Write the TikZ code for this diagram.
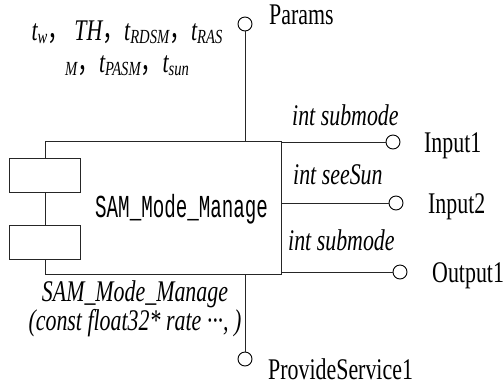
\documentclass[tikz,border=0pt]{standalone}
\usepackage{fontspec}
\setmainfont{Liberation Serif}[FakeStretch=0.73]
\newfontfamily\mononame{Liberation Mono}[FakeStretch=0.6]
\newfontfamily\cjk{Noto Sans CJK SC}[FakeStretch=0.73]
\newcommand{\sbs}[2]{#1\raisebox{-0.25ex}{\fontsize{20}{20}\selectfont #2}}
\newcommand{\zhcomma}{{\cjk ，}}

\begin{document}
\begin{tikzpicture}[x=1pt,y=-1pt]
  \tikzset{comp/.style = {shape=rectangle,draw=black!85,line width=0.9pt,inner sep=0pt}}
  \tikzset{subbox/.style = {comp,fill=white,minimum width=71pt,minimum height=34pt}}
  \tikzset{port/.style = {shape=circle,draw=black,line width=0.9pt,fill=white,minimum size=14pt,inner sep=0pt}}
  \tikzset{wire/.style = {draw=black!85,line width=0.9pt}}
  \tikzset{lbl/.style = {inner sep=0pt,font=\fontsize{30}{32}\selectfont}}
  \tikzset{ilbl/.style = {lbl,font=\fontsize{30}{32}\selectfont\itshape}}

  \useasboundingbox (0,0) rectangle (504,384);

	\node[comp,minimum width=236pt,minimum height=133pt] (SAM) at (163,207.5) {};
	\node[subbox] (sub1) at (44.5,175) {};
	\node[subbox] (sub2) at (44.5,242) {};
	\node[lbl,anchor=base west,font=\fontsize{32}{34}\mononame] (SAMname) at (95,217) {SAM\_Mode\_Manage};

	\node[port] (Params) at (245,24) {};
	\node[port] (ProvideService1) at (245,359) {};
	\node[port] (Input1) at (393,142) {};
	\node[port] (Input2) at (396,203) {};
	\node[port] (Output1) at (400,272) {};

	% port names
	\node[lbl,anchor=base west] (lblParams) at (269,24) {Params};
	\node[lbl,anchor=base west] (lblProvide) at (268,379) {ProvideService1};
	\foreach \p/\dx in {Input1/31, Input2/32, Output1/32}
	  \node[lbl,anchor=base west] (lbl\p) at ([xshift=\dx pt,yshift=-10pt]\p) {\p};

	% data labels
	\node[ilbl,anchor=base west] (typeIn1) at (292,125) {int submode};
	\node[ilbl,anchor=base west] (typeIn2) at (293,184) {int seeSun};
	\node[ilbl,anchor=base west] (typeOut1) at (288,250) {int submode};
	\node[ilbl,anchor=base,align=center,font=\fontsize{30}{30}\selectfont\itshape] (paramList) at (127,72)
	  {\sbs{t}{w}\zhcomma\,TH\zhcomma\sbs{t}{RDSM}\zhcomma\sbs{t}{RAS}\\[2pt]
	   \raisebox{-0.25ex}{\fontsize{20}{20}\selectfont M}\zhcomma\sbs{t}{PASM}\zhcomma\sbs{t}{sun}};
	\node[ilbl,anchor=base,align=center,font=\fontsize{30}{27}\selectfont\itshape] (serviceSig) at (135,330)
	  {SAM\_Mode\_Manage\\(const float32* rate ···, )};

       \foreach \to in {Input1, Input2, Output1}
    \path[wire] (\to) -- (\to -| SAM.east);
    \path[wire] (Params) -- (Params |- SAM.north);
    \path[wire] (ProvideService1) -- (ProvideService1 |- SAM.south);
\end{tikzpicture}
\end{document}
